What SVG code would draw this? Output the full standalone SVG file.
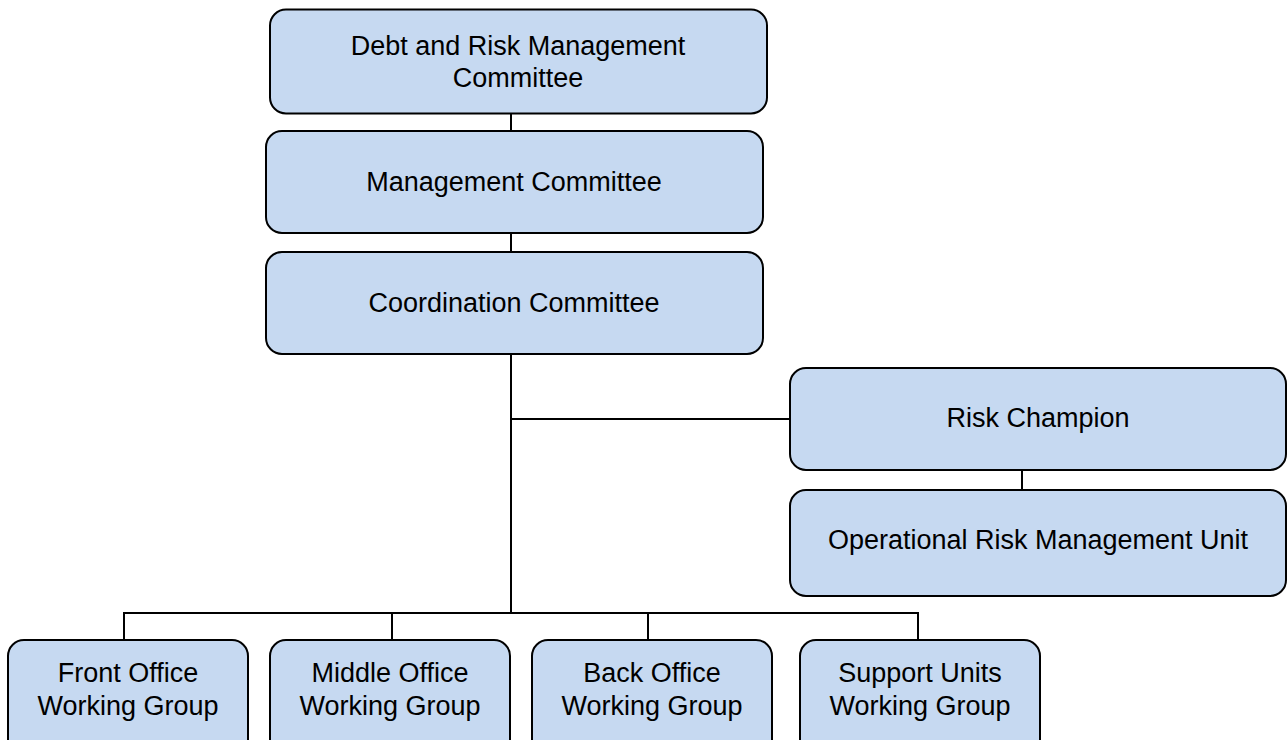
<svg xmlns="http://www.w3.org/2000/svg" width="1287" height="740" viewBox="0 0 1287 740">
<style>
.box{fill:#C6D9F1;stroke:#000;stroke-width:2}
.t{font-family:"Liberation Sans",Arial,sans-serif;font-size:27px;fill:#000;text-anchor:middle}
.c{stroke:#000;stroke-width:2;fill:none}
</style>
<rect width="1287" height="740" fill="#fff"/>
<g id="connectors">
<line class="c" x1="511" y1="113" x2="511" y2="131"/>
<line class="c" x1="511" y1="233" x2="511" y2="252"/>
<line class="c" x1="511" y1="354" x2="511" y2="613"/>
<line class="c" x1="511" y1="419" x2="790" y2="419"/>
<line class="c" x1="1022" y1="470" x2="1022" y2="490"/>
<line class="c" x1="123" y1="613" x2="919" y2="613"/>
<line class="c" x1="124" y1="613" x2="124" y2="640"/>
<line class="c" x1="392" y1="613" x2="392" y2="640"/>
<line class="c" x1="648" y1="613" x2="648" y2="640"/>
<line class="c" x1="918" y1="613" x2="918" y2="640"/>
</g>
<g id="debt-risk-committee">
<rect class="box" x="270" y="9.5" width="497" height="104" rx="16"/>
<text class="t" x="518" y="55">Debt and Risk Management</text>
<text class="t" x="518" y="87">Committee</text>
</g>
<g id="management-committee">
<rect class="box" x="266" y="131" width="497" height="102" rx="16"/>
<text class="t" x="514" y="191">Management Committee</text>
</g>
<g id="coordination-committee">
<rect class="box" x="266" y="252" width="497" height="102" rx="16"/>
<text class="t" x="514" y="312">Coordination Committee</text>
</g>
<g id="risk-champion">
<rect class="box" x="790" y="368" width="496" height="102" rx="16"/>
<text class="t" x="1038" y="427">Risk Champion</text>
</g>
<g id="operational-risk-unit">
<rect class="box" x="790" y="490" width="496" height="106" rx="16"/>
<text class="t" x="1038" y="549">Operational Risk Management Unit</text>
</g>
<g id="front-office">
<rect class="box" x="8" y="640" width="240" height="120" rx="16"/>
<text class="t" x="128" y="682">Front Office</text>
<text class="t" x="128" y="715">Working Group</text>
</g>
<g id="middle-office">
<rect class="box" x="270" y="640" width="240" height="120" rx="16"/>
<text class="t" x="390" y="682">Middle Office</text>
<text class="t" x="390" y="715">Working Group</text>
</g>
<g id="back-office">
<rect class="box" x="532" y="640" width="240" height="120" rx="16"/>
<text class="t" x="652" y="682">Back Office</text>
<text class="t" x="652" y="715">Working Group</text>
</g>
<g id="support-units">
<rect class="box" x="800" y="640" width="240" height="120" rx="16"/>
<text class="t" x="920" y="682">Support Units</text>
<text class="t" x="920" y="715">Working Group</text>
</g>
</svg>
